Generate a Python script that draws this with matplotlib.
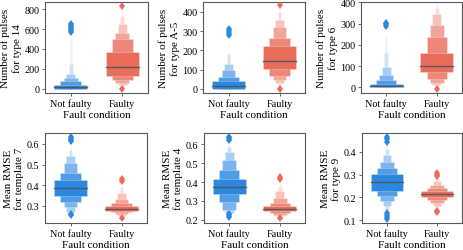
import numpy as np
import matplotlib
matplotlib.use('Agg')
import matplotlib.pyplot as plt
from matplotlib.colors import to_rgb

plt.rcParams['font.family'] = 'Liberation Serif'

categories = ['Not faulty', 'Faulty']

# letter-value boxes, innermost box first: (low, high)
p1_median = [18, 215]
p1_boxes_nf = [(3, 42), (0, 75), (0, 105), (0, 150), (0, 250), (0, 530)]
p1_boxes_f = [(131, 370), (91, 495), (57, 562), (35, 650), (20, 730), (10, 790)]
p1_out_nf = [575, 590, 605, 620, 635, 650]
p1_out_f = [0, 835]

p2_median = [12, 143]
p2_boxes_nf = [(0, 40), (0, 63), (0, 95), (0, 130), (0, 180), (0, 240)]
p2_boxes_f = [(101, 223), (66, 266), (45, 320), (28, 360), (15, 400), (8, 420)]
p2_out_nf = [280, 290, 300, 310]
p2_out_f = [0, 433]

p3_median = [7, 100]
p3_boxes_nf = [(0, 17), (0, 36), (0, 60), (0, 96), (0, 160), (0, 238)]
p3_boxes_f = [(72, 160), (41, 238), (22, 292), (10, 345), (0, 375), (-5, 395)]
p3_out_nf = [290, 296, 302]
p3_out_f = [-8]

p4_median = [0.386, 0.287]
p4_boxes_nf = [(0.349, 0.426), (0.32, 0.461), (0.294, 0.509), (0.27, 0.541), (0.265, 0.573), (0.262, 0.59)]
p4_boxes_f = [(0.277, 0.298), (0.27, 0.313), (0.26, 0.333), (0.252, 0.36), (0.245, 0.39), (0.242, 0.41)]
p4_out_nf = [0.612, 0.62, 0.628, 0.635, 0.255, 0.26]
p4_out_f = [0.24, 0.42, 0.428]

p5_median = [0.373, 0.258]
p5_boxes_nf = [(0.337, 0.414), (0.293, 0.463), (0.253, 0.516), (0.235, 0.56), (0.228, 0.586), (0.225, 0.60)]
p5_boxes_f = [(0.245, 0.27), (0.235, 0.288), (0.225, 0.314), (0.218, 0.35), (0.214, 0.375), (0.212, 0.4)]
p5_out_nf = [0.625, 0.632, 0.64, 0.212, 0.222, 0.232]
p5_out_f = [0.208, 0.418, 0.426]

p6_median = [0.266, 0.214]
p6_boxes_nf = [(0.226, 0.302), (0.204, 0.328), (0.183, 0.357), (0.161, 0.385), (0.143, 0.414), (0.135, 0.43)]
p6_boxes_f = [(0.201, 0.229), (0.19, 0.243), (0.175, 0.255), (0.16, 0.27), (0.15, 0.285)]
p6_out_nf = [0.106, 0.115, 0.122, 0.129, 0.445, 0.455, 0.465]
p6_out_f = [0.135, 0.142, 0.292, 0.3, 0.308]

panels = [
    ('Number of pulses\nfor type 14', p1_median, p1_boxes_nf, p1_boxes_f, p1_out_nf, p1_out_f,
     [0, 200, 400, 600, 800], (-42, 871), [45, 3, 103, 91]),
    ('Number of pulses\nfor type A-5', p2_median, p2_boxes_nf, p2_boxes_f, p2_out_nf, p2_out_f,
     [0, 100, 200, 300, 400], (-22, 451), [203, 3, 102, 91]),
    ('Number of pulses\nfor type 6', p3_median, p3_boxes_nf, p3_boxes_f, p3_out_nf, p3_out_f,
     [0, 100, 200, 300, 400], (-27, 402), [361, 3, 101, 91]),
    ('Mean RMSE\nfor template 7', p4_median, p4_boxes_nf, p4_boxes_f, p4_out_nf, p4_out_f,
     [0.3, 0.4, 0.5, 0.6], (0.217, 0.653), [45, 134, 102, 90]),
    ('Mean RMSE\nfor template 4', p5_median, p5_boxes_nf, p5_boxes_f, p5_out_nf, p5_out_f,
     [0.2, 0.3, 0.4, 0.5, 0.6], (0.182, 0.661), [204, 134, 101, 90]),
    ('Mean RMSE\nfor type 9', p6_median, p6_boxes_nf, p6_boxes_f, p6_out_nf, p6_out_f,
     [0.1, 0.2, 0.3, 0.4], (0.087, 0.483), [362, 134, 100, 90]),
]

colors = ['#2b87df', '#e96e5a']
width_rel = [1.0, 0.62, 0.42, 0.26, 0.12, 0.05]
lighten = [0.0, 0.18, 0.38, 0.58, 0.76, 0.88]
box_w = 0.65

W, H = 463, 251
fig = plt.figure(figsize=(W / 100, H / 100), dpi=100)

for label, med, boxes_nf, boxes_f, out_nf, out_f, yticks, ylim, pos in panels:
    x0, y0, w, h = pos
    ax = fig.add_axes([x0 / W, 1 - (y0 + h) / H, w / W, h / H])
    for i, (boxes, outs) in enumerate([(boxes_nf, out_nf), (boxes_f, out_f)]):
        base = np.array(to_rgb(colors[i]))
        # outer boxes first so the inner ones sit on top
        for k in reversed(range(len(boxes))):
            lo, hi = boxes[k]
            c = base + (1 - base) * lighten[k]
            ax.bar(i, hi - lo, bottom=lo, width=box_w * width_rel[k], color=c,
                   edgecolor=(1, 1, 1, 0.35), linewidth=0.5, zorder=2)
        ax.plot([i - box_w / 2, i + box_w / 2], [med[i], med[i]], color='#555555',
                lw=1.0, alpha=0.9, zorder=3)
        ax.plot([i] * len(outs), outs, linestyle='none', marker='d', ms=4.5,
                color=colors[i], markeredgewidth=0, zorder=3)
    ax.set_xlim(-0.5, 1.5)
    ax.set_ylim(*ylim)
    ax.set_xticks([0, 1])
    ax.set_xticklabels(categories)
    ax.set_yticks(yticks)
    ax.set_xlabel('Fault condition', fontsize=8, labelpad=1)
    ax.set_ylabel(label, fontsize=8, labelpad=2)
    ax.tick_params(labelsize=7.3, length=2.5, width=0.6, pad=1.5, color='0.3')
    for s in ax.spines.values():
        s.set_color('0.35')
        s.set_linewidth(0.8)

fig.savefig('out.png', dpi=100)
